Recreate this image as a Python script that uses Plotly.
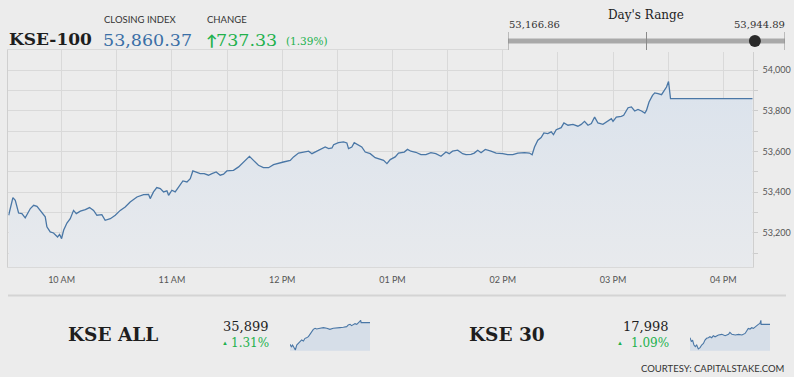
import plotly.graph_objects as go

DAY = "2020-01-01 "

# ---------------- main KSE-100 intraday data ----------------
kse100_times = ["09:31:12","09:33:30","09:34:48","09:36:36","09:38:24","09:40:12","09:43:00","09:44:48","09:46:36","09:48:24",
    "09:51:06","09:52:00","09:53:48","09:55:36","09:57:48","09:58:54","10:00:00","10:01:06","10:02:54","10:04:42",
    "10:06:30","10:08:00","10:10:12","10:12:54","10:15:12","10:17:24","10:19:12","10:21:54","10:23:42","10:26:30",
    "10:29:12","10:31:54","10:34:36","10:37:18","10:41:00","10:44:36","10:47:18","10:48:12","10:50:00","10:51:48",
    "10:53:42","10:55:30","10:57:18","10:58:12","11:00:00","11:01:48","11:03:36","11:06:00","11:08:12","11:10:00",
    "11:11:24","11:13:36","11:15:24","11:17:36","11:19:54","11:21:48","11:24:06","11:26:18","11:28:06","11:29:54",
    "11:33:30","11:36:18","11:39:00","11:42:12","11:44:24","11:47:06","11:49:48","11:52:36","11:55:18","11:58:00",
    "12:00:42","12:04:24","12:06:12","12:08:54","12:11:36","12:14:24","12:16:12","12:18:00","12:20:42","12:23:24",
    "12:25:18","12:27:06","12:28:00","12:30:36","12:33:24","12:35:12","12:36:06","12:37:54","12:39:12","12:41:30",
    "12:43:18","12:45:12","12:47:54","12:50:36","12:53:18","12:55:12","12:57:00","12:58:48","13:01:30","13:03:18",
    "13:06:24","13:08:12","13:10:00","13:12:42","13:15:30","13:18:12","13:20:54","13:23:36","13:26:24","13:29:06",
    "13:30:54","13:32:42","13:35:30","13:38:12","13:40:00","13:42:42","13:44:30","13:46:24","13:48:12","13:50:30",
    "13:53:36","13:56:24","14:00:00","14:02:42","14:05:30","14:08:12","14:11:48","14:14:30","14:16:00","14:17:18",
    "14:19:06","14:20:54","14:22:24","14:24:30","14:26:24","14:27:36","14:29:06","14:31:48","14:33:18","14:35:30",
    "14:38:12","14:40:54","14:42:42","14:44:30","14:46:24","14:48:12","14:50:00","14:51:48","14:54:30","14:57:18",
    "14:59:06","15:00:00","15:01:48","15:04:30","15:05:48","15:08:12","15:10:00","15:11:48","15:13:36","15:15:30",
    "15:17:18","15:18:12","15:19:36","15:21:30","15:22:42","15:24:30","15:26:24","15:27:18","15:29:06","15:30:12",
    "15:31:18","16:16:00"]
kse100_values = [53287,53374,53361,53298,53295,53274,53320,53336,53331,53308,
    53279,53230,53205,53200,53180,53193,53172,53213,53249,53270,
    53311,53295,53307,53315,53325,53311,53287,53290,53262,53270,
    53287,53311,53328,53352,53377,53389,53390,53369,53402,53423,
    53418,53402,53407,53385,53410,53402,53426,53456,53451,53467,
    53505,53497,53492,53492,53484,53492,53500,53484,53489,53505,
    53508,53525,53549,53577,53557,53533,53521,53521,53536,53541,
    53549,53557,53574,53593,53598,53602,53590,53598,53607,53623,
    53615,53618,53634,53644,53648,53643,53615,53623,53644,53634,
    53623,53598,53590,53570,53561,53557,53541,53561,53574,53593,
    53598,53611,53602,53597,53585,53585,53595,53590,53577,53598,
    53590,53602,53607,53590,53585,53587,53593,53607,53595,53611,
    53602,53593,53590,53585,53585,53593,53595,53593,53585,53623,
    53656,53669,53692,53689,53697,53684,53708,53718,53741,53730,
    53734,53725,53734,53749,53730,53738,53770,53741,53734,53751,
    53762,53749,53770,53774,53779,53816,53820,53800,53808,53800,
    53790,53803,53844,53877,53889,53885,53880,53893,53918,53944.89,
    53860.37,53860.37]

closing_index = 53860.37
change_points = 737.33
change_pct = 1.39
day_low = 53166.86
day_high = 53944.89

x_range = ["09:31:00", "16:16:00"]
y_range = [53031, 54100]

# ---------------- sparklines ----------------
kse_all_times = ["09:31","09:38","09:44","09:51","09:58","10:05","10:13","10:22","10:30","10:39",
    "10:47","10:55","11:04","11:12","11:21","11:29","11:38","11:46","12:03","12:20",
    "12:37","12:53","13:10","13:27","13:44","14:01","14:18","14:26","14:35","14:43",
    "14:52","15:00","15:09","15:17","15:23","15:29","15:31","16:16"]
kse_all_values = [35476,35430,35463,35398,35366,35463,35496,35528,35561,35541,
    35593,35606,35626,35671,35723,35768,35788,35775,35788,35801,
    35788,35768,35788,35788,35801,35808,35821,35853,35866,35840,
    35866,35879,35866,35886,35918,35944,35899,35899]
kse_all_range = [35352, 35950]
kse_all_close = "35,899"
kse_all_pct = "1.31%"

kse30_times = ["09:31","09:38","09:44","09:51","09:58","10:05","10:13","10:22","10:30","10:39",
    "10:47","10:55","11:04","11:12","11:21","11:29","11:38","11:55","12:12","12:29",
    "12:46","12:53","13:03","13:20","13:37","13:54","14:10","14:18","14:26","14:35",
    "14:43","14:52","15:00","15:09","15:17","15:25","15:30","15:31","16:16"]
kse30_values = [17898,17868,17880,17843,17830,17843,17813,17823,17843,17855,
    17880,17893,17898,17905,17898,17913,17905,17918,17923,17913,
    17923,17938,17923,17918,17923,17918,17930,17955,17968,17963,
    17973,17968,17980,17988,17998,18005,18028,17998,17998]
kse30_range = [17800, 18031]
kse30_close = "17,998"
kse30_pct = "1.09%"

# ---------------- styling ----------------
BG = "#ececec"
LINE = "#4a77a6"
GRID = "#d9d9d9"
BLUE = "#3a6fa6"
GREEN = "#22b14c"
SERIF = "DejaVu Serif"
SANS = "Lato"

W, H = 794, 377
def px(x):
    return x / W
def py(y):
    return 1 - y / H

fig = go.Figure()

# main area chart
fig.add_trace(go.Scatter(
    x=[DAY + t for t in kse100_times], y=kse100_values,
    mode="lines", line=dict(color=LINE, width=1.3), fill="tozeroy",
    fillgradient=dict(type="vertical",
                      colorscale=[[0, "rgba(232,234,237,1)"], [1, "rgba(218,226,236,1)"]],
                      start=y_range[0], stop=54000),
    xaxis="x", yaxis="y", hoverinfo="skip", showlegend=False))

# day's range bar
fig.add_trace(go.Scatter(
    x=[day_low, day_high], y=[0, 0], mode="lines",
    line=dict(color="#a9a9a9", width=5), xaxis="x2", yaxis="y2",
    hoverinfo="skip", showlegend=False))
fig.add_trace(go.Scatter(
    x=[closing_index], y=[0], mode="markers",
    marker=dict(color="#2a2a2a", size=12), cliponaxis=False,
    xaxis="x2", yaxis="y2", hoverinfo="skip", showlegend=False))

# sparklines
fig.add_trace(go.Scatter(
    x=[DAY + t for t in kse_all_times], y=kse_all_values, mode="lines",
    line=dict(color=LINE, width=1.1), fill="tozeroy", fillcolor="#d6dee8",
    xaxis="x3", yaxis="y3", hoverinfo="skip", showlegend=False))
fig.add_trace(go.Scatter(
    x=[DAY + t for t in kse30_times], y=kse30_values, mode="lines",
    line=dict(color=LINE, width=1.1), fill="tozeroy", fillcolor="#d6dee8",
    xaxis="x4", yaxis="y4", hoverinfo="skip", showlegend=False))

tickfont = dict(family=SANS, size=9, color="#555555")

fig.update_layout(
    width=W, height=H, margin=dict(l=0, r=0, t=0, b=0),
    paper_bgcolor=BG, plot_bgcolor=BG,
    xaxis=dict(domain=[px(8.3), px(752.7)], type="date",
               range=[DAY + x_range[0], DAY + x_range[1]],
               dtick=3600000, tick0=DAY + "10:00", tickformat="%I %p",
               showgrid=True, gridcolor=GRID, gridwidth=1,
               minor=dict(dtick=1800000, showgrid=True, gridcolor=GRID, gridwidth=1),
               showline=True, linecolor=GRID, linewidth=1, mirror=True,
               ticks="", tickfont=tickfont, zeroline=False, fixedrange=True,
               ticklabelstandoff=4),
    yaxis=dict(domain=[py(267.3), py(50)], range=y_range, side="right",
               dtick=200, tick0=54000, tickformat=",d",
               showgrid=True, gridcolor=GRID, gridwidth=1,
               minor=dict(dtick=100, showgrid=True, gridcolor=GRID, gridwidth=1,
                          ticks="outside", ticklen=4, tickcolor="#cccccc"),
               showline=True, linecolor="#cfcfcf", linewidth=1, mirror=True,
               ticks="outside", ticklen=4, tickcolor="#cccccc",
               tickfont=tickfont, zeroline=False, ticklabelstandoff=3),
    xaxis2=dict(domain=[px(508), px(785)], range=[day_low, day_high],
                visible=False, anchor="y2"),
    yaxis2=dict(domain=[py(52), py(30)], range=[-1, 1], visible=False, anchor="x2"),
    xaxis3=dict(domain=[px(290), px(370)], type="date",
                range=[DAY + x_range[0], DAY + x_range[1]], visible=False, anchor="y3"),
    yaxis3=dict(domain=[py(350.7), py(320)], range=kse_all_range, visible=False, anchor="x3"),
    xaxis4=dict(domain=[px(690), px(770)], type="date",
                range=[DAY + x_range[0], DAY + x_range[1]], visible=False, anchor="y4"),
    yaxis4=dict(domain=[py(350.7), py(320)], range=kse30_range, visible=False, anchor="x4"),
)

shapes = []
# range ticks
for v in [day_low, (day_low + day_high) / 2, day_high]:
    shapes.append(dict(type="line", xref="x2", yref="paper", x0=v, x1=v,
                       y0=py(50), y1=py(32), line=dict(color="#8a8a8a", width=1)))
# separator line
shapes.append(dict(type="line", xref="paper", yref="paper", x0=px(8), x1=px(786),
                   y0=py(295.5), y1=py(295.5), line=dict(color="#d4d4d4", width=2)))
fig.update_layout(shapes=shapes)

def ann(text, x, y, size, color, family, xanchor="left", bold=False):
    if bold:
        text = "<b>" + text + "</b>"
    return dict(text=text, x=px(x), y=py(y), xref="paper", yref="paper",
                xanchor=xanchor, yanchor="middle", showarrow=False,
                font=dict(size=size, color=color, family=family))

annotations = [
    ann("KSE-100", 7, 39, 17, "#1e1e1e", SERIF, bold=True),
    ann("CLOSING INDEX", 102, 19, 9.5, "#333333", SANS),
    ann(f"{closing_index:,.2f}", 101, 40, 17.5, BLUE, SERIF),
    ann("CHANGE", 205, 19, 9.5, "#333333", SANS),
    ann("↑", 211, 40, 15, GREEN, SANS, xanchor="center", bold=True),
    ann(f"{change_points:,.2f}", 279, 40, 17.5, GREEN, SERIF, xanchor="right"),
    ann(f"({change_pct:.2f}%)", 284, 41, 10.5, GREEN, SERIF),
    ann("Day's Range", 646, 15, 12, "#222222", SERIF, xanchor="center"),
    ann(f"{day_low:,.2f}", 507, 25, 10, "#333333", SERIF),
    ann(f"{day_high:,.2f}", 787, 25, 10, "#333333", SERIF, xanchor="right"),
    ann("KSE ALL", 66, 334, 18.5, "#1e1e1e", SERIF, bold=True),
    ann(kse_all_close, 271, 326, 13, "#1e1e1e", SERIF, xanchor="right"),
    ann("▲", 225, 342, 6, GREEN, SANS, xanchor="center"),
    ann(kse_all_pct, 271, 343, 12, GREEN, SERIF, xanchor="right"),
    ann("KSE 30", 467, 334, 18.5, "#1e1e1e", SERIF, bold=True),
    ann(kse30_close, 671, 326, 13, "#1e1e1e", SERIF, xanchor="right"),
    ann("▲", 620, 342, 6, GREEN, SANS, xanchor="center"),
    ann(kse30_pct, 671, 343, 12, GREEN, SERIF, xanchor="right"),
    ann("COURTESY: CAPITALSTAKE.COM", 786, 368, 9.5, "#333333", SANS, xanchor="right"),
]
fig.update_layout(annotations=annotations)

fig.write_html("out.html", config={"displayModeBar": False},
               post_script="document.body.style.margin='0';document.body.style.overflow='hidden';")
